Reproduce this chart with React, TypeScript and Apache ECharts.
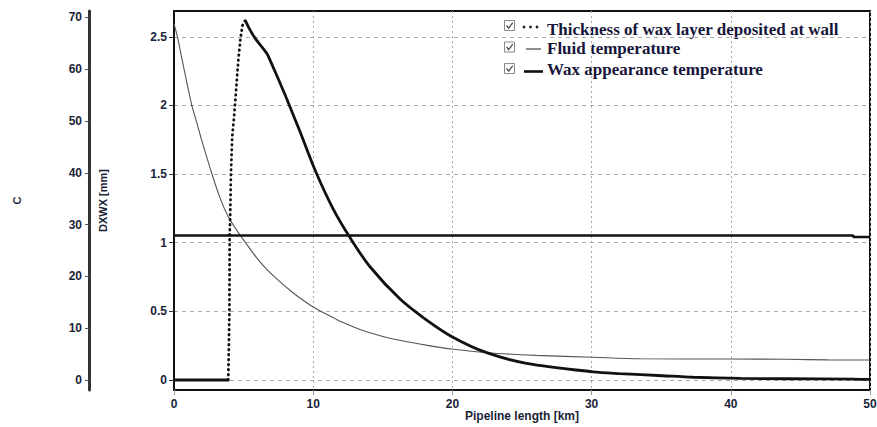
import React, { useEffect, useRef } from 'react';
import * as echarts from 'echarts';

// ---- data ----
const distanceTicks = [0, 10, 20, 30, 40, 50];
const temperatureTicks = [0, 10, 20, 30, 40, 50, 60, 70];
const thicknessTicks = [0, 0.5, 1, 1.5, 2, 2.5];

const legendLabels = [
  'Thickness of wax layer deposited at wall',
  'Fluid temperature',
  'Wax appearance temperature',
];

// Fluid temperature [C] along the pipeline [km]
const fluidKm = [0, 0.24, 0.7, 1.27, 1.58, 1.99, 2.71, 3.3, 3.9, 4.74, 6.18, 7.3, 8.57, 10, 11.6, 12, 13.36, 15, 16.2, 18.2, 20.07, 22.46, 26, 30.1, 33.5, 40, 44, 47, 50];
const fluidC = [68.8, 66.3, 60.3, 53.1, 50.2, 46.3, 39.9, 35.2, 31.5, 28.0, 22.8, 19.7, 16.8, 14.1, 11.8, 11.25, 9.75, 8.4, 7.68, 6.68, 5.93, 5.27, 4.75, 4.38, 4.1, 4.05, 4.0, 3.88, 3.86];

// Wax appearance temperature [C]
const watKm = [0, 48.8, 48.8, 50];
const watC = [27.9, 27.9, 27.6, 27.6];

// Thickness of wax layer [mm]
const waxKm = [0, 3.9, 3.95, 3.98, 4.0, 4.04, 4.09, 4.18, 4.3, 4.38, 4.62, 4.79, 4.93, 5.12, 5.46, 5.82, 6.66, 6.9, 7.97, 8.33, 9.05, 10.13, 11.44, 12.69, 14.08, 16.24, 18.15, 20.07, 22.46, 25.33, 30.1, 32, 35.1, 37.3, 40.7, 44, 48.8, 50];
const waxMm = [0, 0, 0, 0.5, 1.06, 1.2, 1.5, 1.77, 1.9, 2.0, 2.33, 2.5, 2.585, 2.62, 2.55, 2.49, 2.38, 2.33, 2.08, 1.99, 1.81, 1.53, 1.245, 1.03, 0.825, 0.59, 0.437, 0.31, 0.199, 0.122, 0.06, 0.047, 0.031, 0.02, 0.012, 0.009, 0.006, 0.004];
const riseFrom = 1; // index where the dotted rise begins
const riseTo = 13; // index of the peak

export default function App() {
  const ref = useRef<HTMLDivElement>(null);

  useEffect(() => {
    document.body.style.margin = '0';
    const chart = echarts.init(ref.current!, null, { renderer: 'svg' });

    const wax = waxKm.map((x, i) => [x, waxMm[i]]);
    const solidWax = wax.map((p, i) => (i > riseFrom && i < riseTo ? [p[0], null] : p));
    const dottedWax = wax.slice(riseFrom, riseTo + 1);

    const labelFont = {
      fontFamily: 'Liberation Sans, Arial, sans-serif',
      fontWeight: 'bold' as const,
      fontSize: 12,
      color: '#1a1f38',
    };

    const legendGraphics: any[] = [];
    const rowY = [25.5, 47, 68.5];
    const textY = [29, 48.5, 69.5];
    rowY.forEach((y, i) => {
      legendGraphics.push({
        type: 'rect',
        shape: { x: 504.5, y: y - 5, width: 10, height: 10 },
        style: { fill: '#fff', stroke: '#888', lineWidth: 1 },
      });
      legendGraphics.push({
        type: 'polyline',
        shape: { points: [[506.5, y], [508.7, y + 2.6], [512.8, y - 2.8]] },
        style: { stroke: '#555', lineWidth: 1.4, fill: 'none' },
      });
      if (i === 0) {
        [524, 530.5, 537].forEach((cx) =>
          legendGraphics.push({ type: 'circle', shape: { cx, cy: y + 1.5, r: 1.4 }, style: { fill: '#222' } })
        );
      } else if (i === 1) {
        legendGraphics.push({ type: 'line', shape: { x1: 526, y1: y + 2, x2: 541, y2: y + 2 }, style: { stroke: '#444', lineWidth: 1.2 } });
      } else {
        legendGraphics.push({ type: 'line', shape: { x1: 524, y1: y + 3, x2: 543, y2: y + 3 }, style: { stroke: '#111', lineWidth: 2.6 } });
      }
      legendGraphics.push({
        type: 'text',
        x: 547,
        y: textY[i],
        style: {
          text: legendLabels[i],
          font: 'bold 17px "Liberation Serif", "Times New Roman", serif',
          fill: '#16163a',
          textVerticalAlign: 'middle',
          textAlign: 'left',
        },
      });
    });

    chart.setOption({
      animation: false,
      backgroundColor: '#fff',
      grid: {
        left: 174,
        right: 7,
        top: 11,
        bottom: 37,
        outerBoundsMode: 'none',
        containLabel: false,
        show: true,
        borderColor: '#111',
        borderWidth: 2,
        backgroundColor: 'transparent',
      },
      xAxis: {
        type: 'value',
        min: distanceTicks[0],
        max: distanceTicks[distanceTicks.length - 1],
        interval: 10,
        name: 'Pipeline length [km]',
        nameLocation: 'middle',
        nameGap: 20,
        nameMoveOverlap: false,
        nameTextStyle: { ...labelFont, fontSize: 12 },
        axisLine: { show: true, onZero: false, lineStyle: { color: '#111', width: 2 } },
        axisTick: { show: true, length: 5, lineStyle: { color: '#999' } },
        axisLabel: { ...labelFont, margin: 8 },
        splitLine: { show: true, lineStyle: { color: '#aaa', type: [2, 3], width: 1 } },
      },
      yAxis: [
        {
          type: 'value',
          position: 'left',
          offset: 85,
          min: -1.93,
          max: 71.22,
          name: 'C',
          nameLocation: 'middle',
          nameGap: 67,
          nameTextStyle: { ...labelFont, fontSize: 11 },
          axisLine: { show: true, onZero: false, lineStyle: { color: '#333', width: 3 } },
          axisTick: { show: true, length: 4, customValues: temperatureTicks, lineStyle: { color: '#555' } },
          axisLabel: { ...labelFont, margin: 7, customValues: temperatureTicks },
          splitLine: { show: false },
        },
        {
          type: 'value',
          position: 'left',
          offset: 0,
          min: -0.0728,
          max: 2.688,
          name: 'DXWX [mm]',
          nameLocation: 'middle',
          nameGap: 66,
          nameTextStyle: { ...labelFont, fontSize: 11 },
          axisLine: { show: true, onZero: false, lineStyle: { color: '#111', width: 2 } },
          axisTick: { show: true, length: 5, customValues: thicknessTicks, lineStyle: { color: '#333' } },
          axisLabel: { ...labelFont, margin: 7, customValues: thicknessTicks },
          splitLine: { show: true, lineStyle: { color: '#aaa', type: [4, 4], width: 1 } },
        },
      ],
      graphic: legendGraphics,
      series: [
        {
          name: legendLabels[1],
          type: 'line',
          yAxisIndex: 0,
          data: fluidKm.map((x, i) => [x, fluidC[i]]),
          showSymbol: false,
          smooth: 0.3,
          lineStyle: { color: '#555', width: 1.1 },
          z: 3,
        },
        {
          name: legendLabels[2],
          type: 'line',
          yAxisIndex: 0,
          data: watKm.map((x, i) => [x, watC[i]]),
          showSymbol: false,
          lineStyle: { color: '#111', width: 2.6 },
          z: 4,
        },
        {
          name: legendLabels[0],
          type: 'line',
          yAxisIndex: 1,
          data: dottedWax,
          showSymbol: false,
          lineStyle: { color: '#111', width: 2.8, type: [0.5, 4.5], cap: 'round' },
          z: 5,
        },
        {
          name: legendLabels[0] + ' ',
          type: 'line',
          yAxisIndex: 1,
          data: solidWax,
          connectNulls: false,
          showSymbol: false,
          smooth: 0.3,
          lineStyle: { color: '#111', width: 2.8 },
          z: 5,
        },
      ],
    });

    return () => chart.dispose();
  }, []);

  return <div ref={ref} style={{ width: 877, height: 427 }} />;
}
